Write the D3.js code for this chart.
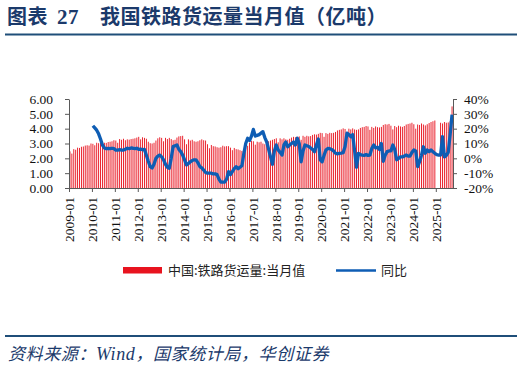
<!DOCTYPE html>
<html>
<head>
<meta charset="utf-8">
<script src="https://cdn.jsdelivr.net/npm/d3@7"></script>
<style>
  html, body { margin: 0; padding: 0; background: #fff; }
  svg { display: block; }
  .axis path, .axis line { stroke: #595959; }
</style>
</head>
<body>
<div id="chart"></div>
<script>
// Monthly railway freight volume (100m tonnes) and YoY (%), 2009-01 .. 2025-09
const startMonth = "2009-01";
const monthCount = 201;

const freight = [
  2.47, 2.32, 2.62, 2.58, 2.72, 2.70, 2.78, 2.80, 2.86, 2.88, 2.86, 3.00, // 2009
  2.98, 2.88, 3.05, 3.02, 3.08, 2.98, 3.05, 3.04, 3.10, 3.12, 3.15, 3.22, // 2010
  3.20, 3.05, 3.30, 3.25, 3.32, 3.22, 3.28, 3.26, 3.30, 3.32, 3.35, 3.40, // 2011
  3.45, 3.28, 3.42, 3.38, 3.32, 3.12, 3.02, 3.00, 3.05, 3.20, 3.35, 3.42, // 2012
  3.38, 3.15, 3.38, 3.30, 3.38, 3.30, 3.22, 3.25, 3.40, 3.48, 3.50, 3.52, // 2013
  3.28, 2.95, 3.28, 3.20, 3.25, 3.15, 3.12, 3.15, 3.22, 3.28, 3.22, 3.20, // 2014
  2.95, 2.68, 2.90, 2.82, 2.80, 2.75, 2.72, 2.75, 2.85, 2.80, 2.82, 2.82, // 2015
  2.72, 2.55, 2.70, 2.62, 2.60, 2.55, 2.50, 2.55, 2.72, 2.85, 3.05, 3.18, // 2016
  3.15, 2.92, 3.12, 3.08, 3.12, 3.00, 2.95, 3.00, 3.15, 3.20, 3.25, 3.30, // 2017
  3.35, 3.08, 3.35, 3.28, 3.35, 3.28, 3.25, 3.32, 3.40, 3.45, 3.42, 3.45, // 2018
  3.48, 3.25, 3.52, 3.45, 3.52, 3.48, 3.50, 3.58, 3.62, 3.60, 3.65, 3.72, // 2019
  3.70, 3.45, 3.70, 3.65, 3.72, 3.70, 3.72, 3.78, 3.88, 3.92, 3.95, 4.02, // 2020
  3.98, 3.75, 4.00, 3.95, 4.02, 3.95, 3.92, 3.95, 4.05, 4.10, 4.12, 4.18, // 2021
  4.15, 3.92, 4.12, 4.05, 4.15, 4.10, 4.08, 4.12, 4.25, 4.30, 4.28, 4.32, // 2022
  4.20, 3.95, 4.18, 4.10, 4.20, 4.15, 4.12, 4.18, 4.28, 4.32, 4.35, 4.40, // 2023
  4.30, 4.00, 4.28, 4.25, 4.35, 4.28, 4.22, 4.30, 4.38, 4.45, 4.50, 4.55, // 2024
  null, null, 4.40, 4.35, 4.45, 4.40, 4.42, 4.50, 5.50                    // 2025
];

const yoy = [
  null, null, null, null, null, null, null, null, null, null, null, null, // 2009
  22, 20.5, 19, 16.5, 13, 9, 7, 6.5, 6.7, 6.5, 6.8, 6.5,                  // 2010
  5.6, 5.5, 5.8, 5.5, 5.6, 6.2, 6.8, 6.5, 7.0, 6.8, 6.5, 6.8,             // 2011
  6.0, 6.2, 5.8, 6.0, 2, -2, -5.6, -6.5, -4, 0, 1.5, 2.2,                 // 2012
  1, -1, -4, -6, -6.7, 0, 7.9, 8.5, 9, 6, 4.5, 2.2,                       // 2013
  -1, -4.5, -3.5, -2.3, -1.5, -1, -1, -3, -5.6, -6.5, -7.9, -9.5,         // 2014
  -10, -10, -10, -10.5, -10.5, -11, -14, -16, -16, -16, -14, -9,          // 2015
  -11, -9, -7, -5.6, -7, -6, -5, 3, 10, 13.5, 12, 15,                     // 2016
  19.5, 15, 15.5, 16, 17, 18, 14, 11, 6, 1, -4, 5,                        // 2017
  9, 5.6, 4, 2.2, 9, 11, 7.8, 9, 10, 11, 9, 13.5,                         // 2018
  10, -2.3, 5, 9, 8.5, 8, 7, 6, 4.5, 9, 13, -1,                           // 2019
  -2.3, 2, 5.6, 6.7, 6.5, 6, 5, 3.4, 3, 3.4, 3.5, 3.8,                    // 2020
  8, 17, 16, 14.6, 16, 5, -6, 3.4, 2.5, 2.2, 2, 2.5,                      // 2021
  2, 2.2, 6.7, 9, 7, 7.5, 6, 10, -2, 2, 4.5, 5,                           // 2022
  5, 9, 6, -1, 0, 1, 1, 1.5, 2.2, 1.5, 1.5, 4,                            // 2023
  5.6, 5, -5.6, -2.3, 2, 7.8, 3.4, 5.6, 4.5, 5.6, 4.5, 3.4,               // 2024
  2.5, 2.2, 2.2, 14.6, 1, 2, 4, 16, 29.5                                  // 2025
];

const tickLabels = [
  "2009-01", "2010-01", "2011-01", "2012-01", "2013-01", "2014-01", "2015-01", "2016-01", "2017-01",
  "2018-01", "2019-01", "2020-01", "2021-01", "2022-01", "2023-01", "2024-01", "2025-01"
];
const leftTicks = [0, 1, 2, 3, 4, 5, 6];
const rightTicks = [-20, -10, 0, 10, 20, 30, 40];

const seriesNames = ["中国:铁路货运量:当月值", "同比"];

const width = 524;
const height = 369;
const plot = { left: 69, right: 453, top: 99, bottom: 188 };
const serif = "'Liberation Serif', 'Times New Roman', serif";
const cjk = "'Noto Sans CJK SC', sans-serif";

const fmtMonth = d3.timeFormat("%Y-%m");
const first = d3.timeParse("%Y-%m")(startMonth);
const months = d3.timeMonth.range(first, d3.timeMonth.offset(first, monthCount)).map(fmtMonth);

const data = months.map((m, i) => ({ month: m, freight: freight[i] ?? null, yoy: yoy[i] ?? null }));

const svg = d3.select("#chart").append("svg").attr("width", width).attr("height", height);

// title block
const title = svg.append("text")
  .attr("x", 7).attr("y", 24)
  .attr("fill", "#1B3A6B")
  .attr("font-family", cjk)
  .attr("font-weight", 700)
  .attr("font-size", 20)
  .attr("letter-spacing", 0.5);
title.append("tspan").text("图表");
title.append("tspan").attr("x", 57).attr("font-family", serif).attr("font-size", 21).text("27");
title.append("tspan").attr("x", 100).text("我国铁路货运量当月值（亿吨）");

svg.append("line")
  .attr("x1", 5).attr("x2", 517).attr("y1", 34.5).attr("y2", 34.5)
  .attr("stroke", "#1F4E79").attr("stroke-width", 2);

// scales
const x = d3.scaleBand().domain(months).range([plot.left, plot.right]).paddingInner(0.52).paddingOuter(0.26);
const xIdx = d3.scaleLinear().domain([0, months.length]).range([plot.left, plot.right]);
const yL = d3.scaleLinear().domain([0, 6]).range([plot.bottom, plot.top]);
const yR = d3.scaleLinear().domain([-20, 40]).range([plot.bottom, plot.top]);

// bars
svg.append("g")
  .selectAll("rect")
  .data(data.filter((d) => d.freight != null))
  .join("rect")
  .attr("x", (d) => x(d.month))
  .attr("width", x.bandwidth())
  .attr("y", (d) => yL(d.freight))
  .attr("height", (d) => yL(0) - yL(d.freight))
  .attr("fill", "#E8131F");

// yoy line
const line = d3.line()
  .defined((d) => d.yoy != null)
  .x((d) => x(d.month) + x.bandwidth() / 2)
  .y((d) => yR(d.yoy));

svg.append("path")
  .datum(data)
  .attr("d", line)
  .attr("fill", "none")
  .attr("stroke", "#0E5DB4")
  .attr("stroke-width", 3.3)
  .attr("stroke-linejoin", "round");

// axes
const xAxis = d3.axisBottom(xIdx)
  .tickValues(tickLabels.map((t) => months.indexOf(t)))
  .tickFormat((i) => months[i])
  .tickSize(4)
  .tickSizeOuter(0);

const xAxisG = svg.append("g")
  .attr("class", "axis")
  .attr("transform", `translate(0,${plot.bottom})`)
  .call(xAxis);

xAxisG.selectAll("text")
  .attr("transform", "rotate(-90)")
  .attr("x", -9)
  .attr("y", 0)
  .attr("dy", "0.35em")
  .attr("text-anchor", "end");

const yLeftG = svg.append("g")
  .attr("class", "axis")
  .attr("transform", `translate(${plot.left},0)`)
  .call(d3.axisLeft(yL).tickValues(leftTicks).tickFormat(d3.format(".2f")).tickSize(4).tickSizeOuter(0).tickPadding(12));

const yRightG = svg.append("g")
  .attr("class", "axis")
  .attr("transform", `translate(${plot.right},0)`)
  .call(d3.axisRight(yR).tickValues(rightTicks).tickFormat((d) => d + "%").tickSize(4).tickSizeOuter(0).tickPadding(7));

[xAxisG, yLeftG, yRightG].forEach((g) => {
  g.attr("font-family", serif).attr("font-size", 13.5);
  g.selectAll("text").attr("fill", "#111").style("font-family", serif);
});

// legend
const legend = svg.append("g")
  .attr("font-family", cjk)
  .attr("font-size", 13)
  .attr("fill", "#222");

legend.append("rect").attr("x", 123).attr("y", 267).attr("width", 39).attr("height", 6.5).attr("fill", "#E8131F");
legend.append("text").attr("x", 168).attr("y", 270.5).attr("dy", "0.35em").text(seriesNames[0]);
legend.append("line").attr("x1", 336).attr("x2", 376).attr("y1", 270.5).attr("y2", 270.5)
  .attr("stroke", "#0E5DB4").attr("stroke-width", 2.5);
legend.append("text").attr("x", 381).attr("y", 270.5).attr("dy", "0.35em").text(seriesNames[1]);

// footer
svg.append("line")
  .attr("x1", 5).attr("x2", 517).attr("y1", 336).attr("y2", 336)
  .attr("stroke", "#1F4E79").attr("stroke-width", 2);

const source = svg.append("text")
  .attr("x", 8).attr("y", 360)
  .attr("fill", "#1B3A6B")
  .attr("font-family", cjk)
  .attr("font-style", "italic")
  .attr("font-size", 17)
  .attr("letter-spacing", 0.6);
source.append("tspan").text("资料来源：");
source.append("tspan").attr("font-family", serif).attr("font-size", 18).text("Wind");
source.append("tspan").text("，国家统计局，华创证券");
</script>
</body>
</html>
